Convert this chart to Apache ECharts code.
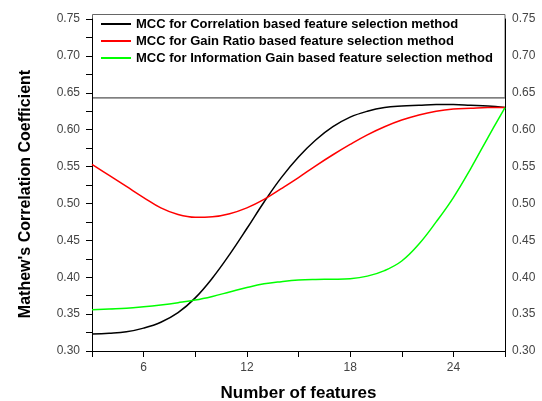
<!DOCTYPE html>
<html><head><meta charset="utf-8">
<script src="https://cdn.jsdelivr.net/npm/echarts@6/dist/echarts.min.js"></script>
<style>html,body{margin:0;padding:0;background:#fff}#c{width:542px;height:401px}</style>
</head><body><div id="c"></div>
<script>
const xValues = [3,4,5,6,7,8,9,10,11,12,13,14,15,16,17,18,19,20,21,22,23,24,25,26,27];
const seriesNames = [
  'MCC for Correlation based feature selection method',
  'MCC for Gain Ratio based feature selection method',
  'MCC for Information Gain based feature selection method'
];
const correlation = [0.323,0.324,0.326,0.331,0.339,0.352,0.372,0.399,0.431,0.466,0.502,0.535,0.563,0.586,0.604,0.617,0.625,0.630,0.632,0.633,0.634,0.634,0.633,0.632,0.630];
const gainRatio = [0.553,0.538,0.523,0.508,0.494,0.485,0.4812,0.4819,0.4861,0.494,0.5055,0.520,0.535,0.551,0.566,0.580,0.593,0.604,0.613,0.620,0.625,0.628,0.629,0.630,0.630];
const infoGain = [0.356,0.357,0.358,0.360,0.3625,0.3655,0.369,0.374,0.380,0.386,0.391,0.394,0.3962,0.397,0.3972,0.398,0.4015,0.409,0.422,0.445,0.475,0.508,0.547,0.589,0.630];
const xTickLabels = [6,12,18,24];
const yTitle = "Mathew's Correlation Coefficient";
const xTitle = 'Number of features';
const colors = ['#000000','#ff0000','#00ff00'];

const chart = echarts.init(document.getElementById('c'), null, {renderer:'canvas'});
const pair = arr => xValues.map((x,i)=>[x,arr[i]]);
const FF = 'Liberation Sans, Arial, sans-serif';
const tickFont = {color:'#444', fontSize:12, fontFamily:FF};
const yBase = {
  type:'value', min:0.3, max:0.75, interval:0.05,
  axisLine:{show:true, lineStyle:{color:'#000', width:1}},
  splitLine:{show:false}
};
chart.setOption({
  animation:false,
  backgroundColor:'#fff',
  grid:{left:92, right:37, top:19, bottom:50, outerBoundsMode:'none', containLabel:false},
  xAxis:{
    type:'value', min:3, max:27, interval:3,
    name:xTitle, nameLocation:'middle', nameGap:34,
    nameTextStyle:{fontSize:17, fontWeight:'bold', color:'#000', fontFamily:FF},
    axisLine:{lineStyle:{color:'#000'}},
    axisTick:{length:6, lineStyle:{color:'#000'}},
    axisLabel:Object.assign({margin:11, formatter:v=>xTickLabels.includes(v)?String(v):''}, tickFont),
    splitLine:{show:false}
  },
  yAxis:[
    Object.assign({}, yBase, {
      position:'left',
      axisTick:{show:true, length:6, lineStyle:{color:'#000'}},
      minorTick:{show:true, splitNumber:2, length:6, lineStyle:{color:'#000'}},
      axisLabel:Object.assign({margin:12, formatter:v=>v.toFixed(2)}, tickFont)
    }),
    Object.assign({}, yBase, {
      position:'right',
      axisTick:{show:false},
      axisLabel:Object.assign({margin:7, formatter:v=>v.toFixed(2)}, tickFont)
    })
  ],
  legend:{
    orient:'vertical', left:101, top:17, itemWidth:30, itemHeight:2, itemGap:3, padding:0,
    icon:'rect',
    data:seriesNames,
    textStyle:{fontSize:13, fontWeight:'bold', color:'#000', fontFamily:FF, padding:[0,0,0,0], lineHeight:14}
  },
  graphic:[
    {
      type:'rect', z:-1,
      shape:{x:92.5, y:14.5, width:412.5, height:83},
      style:{fill:'#fff', stroke:'#666', lineWidth:1}
    },
    {
      type:'line', z:-1,
      shape:{x1:92.5, y1:98, x2:505, y2:98},
      style:{stroke:'#888', lineWidth:1.5}
    },
    {
      type:'text', x:26, y:194, rotation:Math.PI/2,
      style:{text:yTitle, fontSize:16, fontWeight:'bold', fill:'#000', fontFamily:FF, align:'center', verticalAlign:'middle'}
    }
  ],
  series:[
    {name:seriesNames[0], type:'line', data:pair(correlation), smooth:0.4, symbol:'none', lineStyle:{color:colors[0], width:1.5}, itemStyle:{color:colors[0]}, z:3},
    {name:seriesNames[1], type:'line', data:pair(gainRatio), smooth:0.4, symbol:'none', lineStyle:{color:colors[1], width:1.5}, itemStyle:{color:colors[1]}, z:3},
    {name:seriesNames[2], type:'line', data:pair(infoGain), smooth:0.4, symbol:'none', lineStyle:{color:colors[2], width:1.5}, itemStyle:{color:colors[2]}, z:3}
  ]
});
</script></body></html>
